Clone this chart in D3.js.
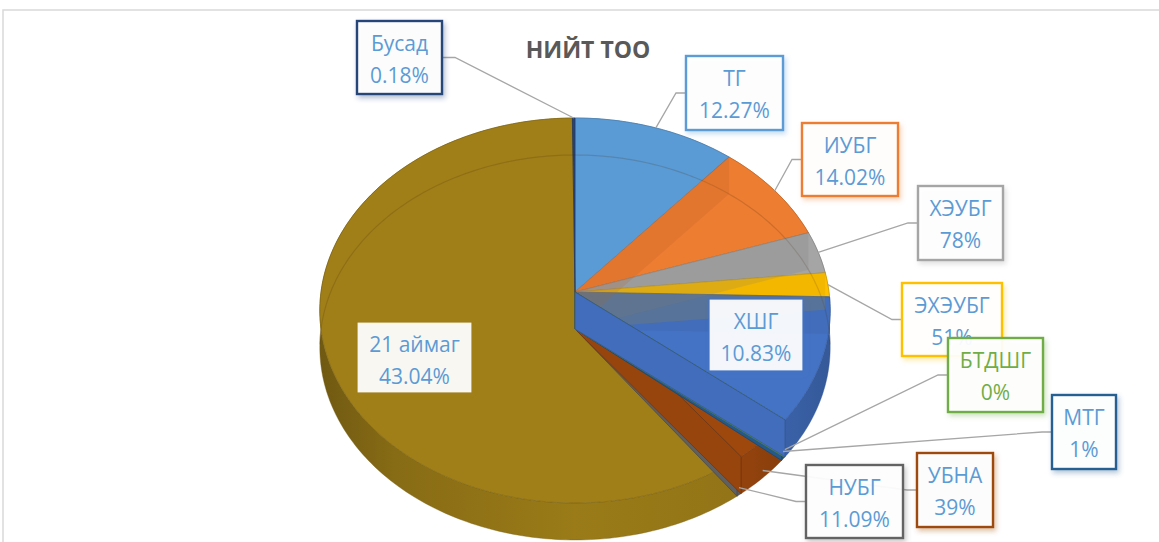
<!DOCTYPE html>
<html>
<head>
<meta charset="utf-8">
<script src="https://cdnjs.cloudflare.com/ajax/libs/d3/7.8.5/d3.min.js"></script>
<style>
  body { margin: 0; background: #fff; }
  svg { display: block; font-family: "Open Sans", sans-serif; }
</style>
</head>
<body>
<svg id="chart" width="1159" height="542"></svg>
<script>
// data (slice sizes as drawn, labels as printed)
const categories = ["ТГ", "ИУБГ", "ХЭУБГ", "ЭХЭУБГ", "ХШГ", "БТДШГ", "МТГ", "УБНА", "НУБГ", "21 аймаг", "Бусад"];
const shares = [11.28, 8.53, 3.56, 2.03, 10.44, 0.05, 0.3, 3.5, 0.3, 59.83, 0.18];
const pctLabels = ["12.27%", "14.02%", "78%", "51%", "10.83%", "0%", "1%", "39%", "11.09%", "43.04%", "0.18%"];
const colors = ["#5B9BD5", "#ED7D31", "#A5A5A5", "#FFC000", "#4472C4", "#70AD47", "#255E91", "#9E480E", "#636363", "#A07F19", "#264478"];
const title = "НИЙТ ТОО";

// label box layout (x, y, w, h); inside labels have no leader
const labelBoxes = {
    "ТГ":       { x: 686, y: 56,  w: 97,  h: 74, side: "left" },
    "ИУБГ":     { x: 802, y: 123, w: 96,  h: 73, side: "left" },
    "ХЭУБГ":    { x: 918, y: 186, w: 85,  h: 74, side: "left" },
    "ЭХЭУБГ":   { x: 902, y: 283, w: 100, h: 73, side: "left" },
    "ХШГ":      { x: 709, y: 299, w: 94,  h: 72, side: null },
    "БТДШГ":    { x: 948, y: 338, w: 95,  h: 74, side: "left" },
    "МТГ":      { x: 1052, y: 395, w: 64, h: 74, side: "left" },
    "УБНА":     { x: 917, y: 453, w: 76,  h: 74, side: "left" },
    "НУБГ":     { x: 806, y: 465, w: 97,  h: 73, side: "left" },
    "21 аймаг": { x: 357, y: 322, w: 115, h: 71, side: null },
    "Бусад":    { x: 357, y: 21,  w: 85,  h: 73, side: "right" }
};

const svg = d3.select("#chart");
const defs = svg.append("defs");

// chart frame
svg.append("path")
    .attr("d", "M3,542V10H1159")
    .attr("fill", "none")
    .attr("stroke", "#D9D9D9")
    .attr("stroke-width", 1.5);

// 3d pie projection
const cx = 575, cy = 292, rx = 254, ry = 190.7, persp = 0.096, depth = 37;

function proj(a, z) {
    const u = Math.sin(a), v = -Math.cos(a), w = 1 - persp * v;
    return [cx + rx * u / w, cy + ry * v / w + z];
}

function rimPts(a0, a1, z) {
    const n = Math.max(2, Math.ceil(Math.abs(a1 - a0) / (Math.PI / 180)) + 1);
    return d3.range(n).map(i => proj(a0 + (a1 - a0) * i / (n - 1), z));
}

const line = d3.line();
const closed = pts => line(pts) + "Z";

const data = categories.map((c, i) => ({ name: c, value: shares[i], pct: pctLabels[i], color: colors[i] }));
const arcs = d3.pie().sort(null).value(d => d.value)(data);

const g = svg.append("g");

// side wall gradients
arcs.forEach((d, i) => {
    const c = d3.color(d.data.color);
    const grad = defs.append("linearGradient")
        .attr("id", "side" + i)
        .attr("gradientUnits", "userSpaceOnUse")
        .attr("x1", cx - rx).attr("x2", cx + rx).attr("y1", 0).attr("y2", 0);
    grad.append("stop").attr("offset", 0).attr("stop-color", c.darker(1.0));
    grad.append("stop").attr("offset", 0.15).attr("stop-color", c.darker(0.45));
    grad.append("stop").attr("offset", 0.5).attr("stop-color", c.darker(0.1));
    grad.append("stop").attr("offset", 0.85).attr("stop-color", c.darker(0.25));
    grad.append("stop").attr("offset", 1).attr("stop-color", c.darker(0.7));
});

// outer side walls, back to front
const sideOrder = arcs.map((d, i) => i)
    .sort((a, b) => -Math.cos((arcs[a].startAngle + arcs[a].endAngle) / 2) + Math.cos((arcs[b].startAngle + arcs[b].endAngle) / 2));

g.selectAll(".side")
    .data(sideOrder.map(i => ({ arc: arcs[i], i })))
    .enter().append("path")
    .attr("class", "side")
    .attr("d", d => closed(rimPts(d.arc.startAngle, d.arc.endAngle, 0)
        .concat(rimPts(d.arc.endAngle, d.arc.startAngle, depth))))
    .attr("fill", d => `url(#side${d.i})`)
    .attr("stroke", d => d3.color(d.arc.data.color).darker(0.8))
    .attr("stroke-width", 0.4);

// top faces
g.selectAll(".top")
    .data(arcs)
    .enter().append("path")
    .attr("class", "top")
    .attr("d", d => closed([[cx, cy]].concat(rimPts(d.startAngle, d.endAngle, 0))))
    .attr("fill", d => d.data.color)
    .attr("stroke", d => d3.color(d.data.color).darker(0.6))
    .attr("stroke-width", 0.7);

// back rim of the bottom face, seen through
g.append("path")
    .attr("d", line(rimPts(-Math.PI / 2 - 0.08, Math.PI / 2 + 0.08, depth)))
    .attr("fill", "none")
    .attr("stroke", "rgba(60,40,0,0.18)")
    .attr("stroke-width", 1.2);

const wall = (a, z) => closed([[cx, cy], proj(a, 0), proj(a, depth), [cx, cy + depth]]);

// inner walls facing away, seen through the top
g.selectAll(".backwall")
    .data(arcs.filter(d => d.startAngle > 0.01 && d.startAngle < Math.PI && d.value > 1))
    .enter().append("path")
    .attr("class", "backwall")
    .attr("d", d => wall(d.startAngle))
    .attr("fill", d => d3.color(d.data.color).darker(0.7))
    .attr("fill-opacity", 0.22);

// inner walls facing the viewer (lower right)
g.selectAll(".frontwall")
    .data(arcs.filter(d => d.endAngle > 2 * Math.PI / 3 && d.endAngle < Math.PI).reverse())
    .enter().append("path")
    .attr("class", "frontwall")
    .attr("d", d => wall(d.endAngle))
    .attr("fill", d => d3.color(d.data.color).darker(0.12))
    .attr("stroke", d => d3.color(d.data.color).darker(0.9))
    .attr("stroke-width", 0.7);

// title
svg.append("text")
    .attr("x", 588)
    .attr("y", 58)
    .attr("text-anchor", "middle")
    .attr("font-size", 23)
    .attr("font-weight", "bold")
    .attr("fill", "#595959")
    .text(title);

// leader lines
const labels = arcs.map(d => ({ arc: d, box: labelBoxes[d.data.name] }));

labels.filter(d => d.box.side).forEach(d => {
    const mid = (d.arc.startAngle + d.arc.endAngle) / 2;
    const front = -Math.cos(mid) > 0.3;
    const p = proj(mid, front ? depth * 0.8 : 0);
    const b = d.box;
    const ym = b.y + b.h / 2;
    const xe = b.side === "left" ? b.x : b.x + b.w;
    const xk = b.side === "left" ? xe - 10 : xe + 13;
    svg.append("path")
        .attr("d", line([p, [xk, ym], [xe, ym]]))
        .attr("fill", "none")
        .attr("stroke", "#A6A6A6")
        .attr("stroke-width", 1.3);
});

// label boxes
labels.forEach((d, i) => {
    const b = d.box;
    const c = d.arc.data.color;
    const f = defs.append("filter")
        .attr("id", "sh" + i)
        .attr("x", "-20%").attr("y", "-20%").attr("width", "150%").attr("height", "150%");
    f.append("feDropShadow")
        .attr("dx", 2).attr("dy", 3)
        .attr("stdDeviation", 2.5)
        .attr("flood-color", c)
        .attr("flood-opacity", 0.35);

    const lg = svg.append("g");
    lg.append("rect")
        .attr("x", b.x).attr("y", b.y)
        .attr("width", b.w).attr("height", b.h)
        .attr("fill", "rgba(255,255,255,0.93)")
        .attr("stroke", c)
        .attr("stroke-width", b.side ? 2.4 : 1.2)
        .attr("filter", `url(#sh${i})`);

    const tc = d.arc.data.name === "БТДШГ" ? "#70AD47" : "#5B9BD5";
    lg.append("text")
        .attr("x", b.x + b.w / 2).attr("y", b.y + 30)
        .attr("text-anchor", "middle")
        .attr("font-size", 21)
        .attr("fill", tc)
        .text(d.arc.data.name);
    lg.append("text")
        .attr("x", b.x + b.w / 2).attr("y", b.y + 62)
        .attr("text-anchor", "middle")
        .attr("font-size", 21)
        .attr("fill", tc)
        .text(d.arc.data.pct);
});
</script>
</body>
</html>
